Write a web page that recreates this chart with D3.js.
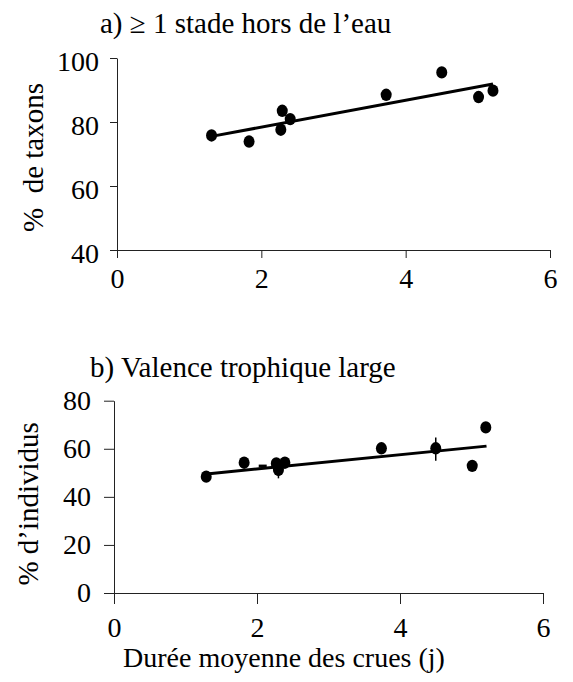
<!DOCTYPE html>
<html><head><meta charset="utf-8">
<script src="https://cdn.jsdelivr.net/npm/d3@7"></script>
</head>
<body style="margin:0">
<script>
// ---- data ----
const xTicks = [0, 2, 4, 6];

// panel a
const aTitle = "a) \u2265 1 stade hors de l\u2019eau";
const aYLabel = "%\u00a0 de taxons";
const aYTicks = [40, 60, 80, 100];
const aX = [1.31, 1.83, 2.27, 2.29, 2.40, 3.73, 4.50, 5.01, 5.21];
const aY = [75.8, 73.9, 77.6, 83.5, 80.9, 88.5, 95.5, 87.8, 89.8];
const aFitX = [1.31, 5.21];
const aFitY = [75.5, 91.9];

// panel b
const bTitle = "b) Valence trophique large";
const bYLabel = "% d\u2019individus";
const bYTicks = [0, 20, 40, 60, 80];
const bX = [1.29, 1.82, 2.27, 2.30, 2.39, 3.74, 4.50, 5.01, 5.20];
const bY = [48.4, 54.2, 53.9, 51.2, 54.2, 60.2, 60.2, 52.9, 68.9];
const bFitX = [1.33, 5.21];
const bFitY = [49.6, 61.1];
const bErrX = [2.30, 4.50];
const bErrLo = [47.7, 55.0];
const bErrHi = [55.2, 64.7];
const bDashX = [2.08];
const bDashY = [52.8];

const xTitle = "Dur\u00e9e moyenne des crues (j)";

// ---- drawing ----
const FONT = "'Liberation Serif'";
const W = 573, H = 682;
const svg = d3.select("body").append("svg").attr("width", W).attr("height", H);

function panel(opt) {
  const x = d3.scaleLinear().domain([0, 6]).range(opt.xr);
  const y = d3.scaleLinear().domain(opt.yd).range(opt.yr);
  const g = svg.append("g");

  const xa = g.append("g").attr("transform", `translate(0,${opt.yr[0]})`)
    .call(d3.axisBottom(x).tickValues(xTicks).tickSize(opt.tk).tickSizeOuter(0)
      .tickPadding(opt.xPad).tickFormat(d3.format("d")));
  const ya = g.append("g").attr("transform", `translate(${opt.xr[0]},0)`)
    .call(d3.axisLeft(y).tickValues(opt.yTicks).tickSize(opt.tkY).tickSizeOuter(0)
      .tickPadding(opt.yPad).tickFormat(d3.format("d")));
  [xa, ya].forEach(a => {
    a.attr("font-family", null).attr("font-size", null);
    a.selectAll("text").style("font-family", FONT).style("font-size", "28px").attr("fill", "#000");
    a.selectAll("line").attr("stroke", "#222");
    a.select(".domain").attr("stroke", "#222");
  });
  ya.selectAll("text").attr("dy", opt.yDy);

  // fit line
  const line = d3.line().x(d => x(d[0])).y(d => y(d[1]));
  g.append("path").datum(opt.fitX.map((v, i) => [v, opt.fitY[i]]))
    .attr("d", line).attr("stroke", "#000").attr("stroke-width", 3).attr("fill", "none");

  // error bars
  if (opt.errX) {
    g.selectAll(".err").data(opt.errX).enter().append("line")
      .attr("x1", d => x(d)).attr("x2", d => x(d))
      .attr("y1", (d, i) => y(opt.errLo[i])).attr("y2", (d, i) => y(opt.errHi[i]))
      .attr("stroke", "#000").attr("stroke-width", 1.5);
  }
  if (opt.dashX) {
    g.selectAll(".dash").data(opt.dashX).enter().append("line")
      .attr("x1", d => x(d) - 4).attr("x2", d => x(d) + 4)
      .attr("y1", (d, i) => y(opt.dashY[i])).attr("y2", (d, i) => y(opt.dashY[i]))
      .attr("stroke", "#000").attr("stroke-width", 3);
  }

  // points
  g.selectAll(".pt").data(opt.px).enter().append("ellipse")
    .attr("cx", d => x(d)).attr("cy", (d, i) => y(opt.py[i]))
    .attr("rx", 5.5).attr("ry", 6.2).attr("fill", "#000");

  // title
  g.append("text").attr("x", opt.titleX).attr("y", opt.titleY)
    .style("font-family", FONT).style("font-size", "29px").text(opt.title);
  // y label
  g.append("text").attr("transform", `translate(${opt.ylX},${(opt.yr[0] + opt.yr[1]) / 2 + opt.ylDy}) rotate(-90)`)
    .attr("text-anchor", "middle").style("font-family", FONT).style("font-size", "29px").text(opt.yLabel);
  return { x, y };
}

panel({ xr: [117, 550], yd: [40, 100], yr: [250, 58], yTicks: aYTicks,
  tk: 8, tkY: 7, xPad: 10, yPad: 11, yDy: "0.43em",
  px: aX, py: aY, fitX: aFitX, fitY: aFitY,
  title: aTitle, titleX: 100, titleY: 33, yLabel: aYLabel, ylX: 43, ylDy: 3.5 });

panel({ xr: [114, 543], yd: [0, 80], yr: [593, 400.7], yTicks: bYTicks,
  tk: 11, tkY: 10, xPad: 13, yPad: 13, yDy: "0.3em",
  px: bX, py: bY, fitX: bFitX, fitY: bFitY, errX: bErrX, errLo: bErrLo, errHi: bErrHi,
  dashX: bDashX, dashY: bDashY,
  title: bTitle, titleX: 90, titleY: 377, yLabel: bYLabel, ylX: 38, ylDy: 7 });

svg.append("text").attr("x", 284).attr("y", 667).attr("text-anchor", "middle")
  .style("font-family", FONT).style("font-size", "28px").text(xTitle);
</script>
</body></html>
